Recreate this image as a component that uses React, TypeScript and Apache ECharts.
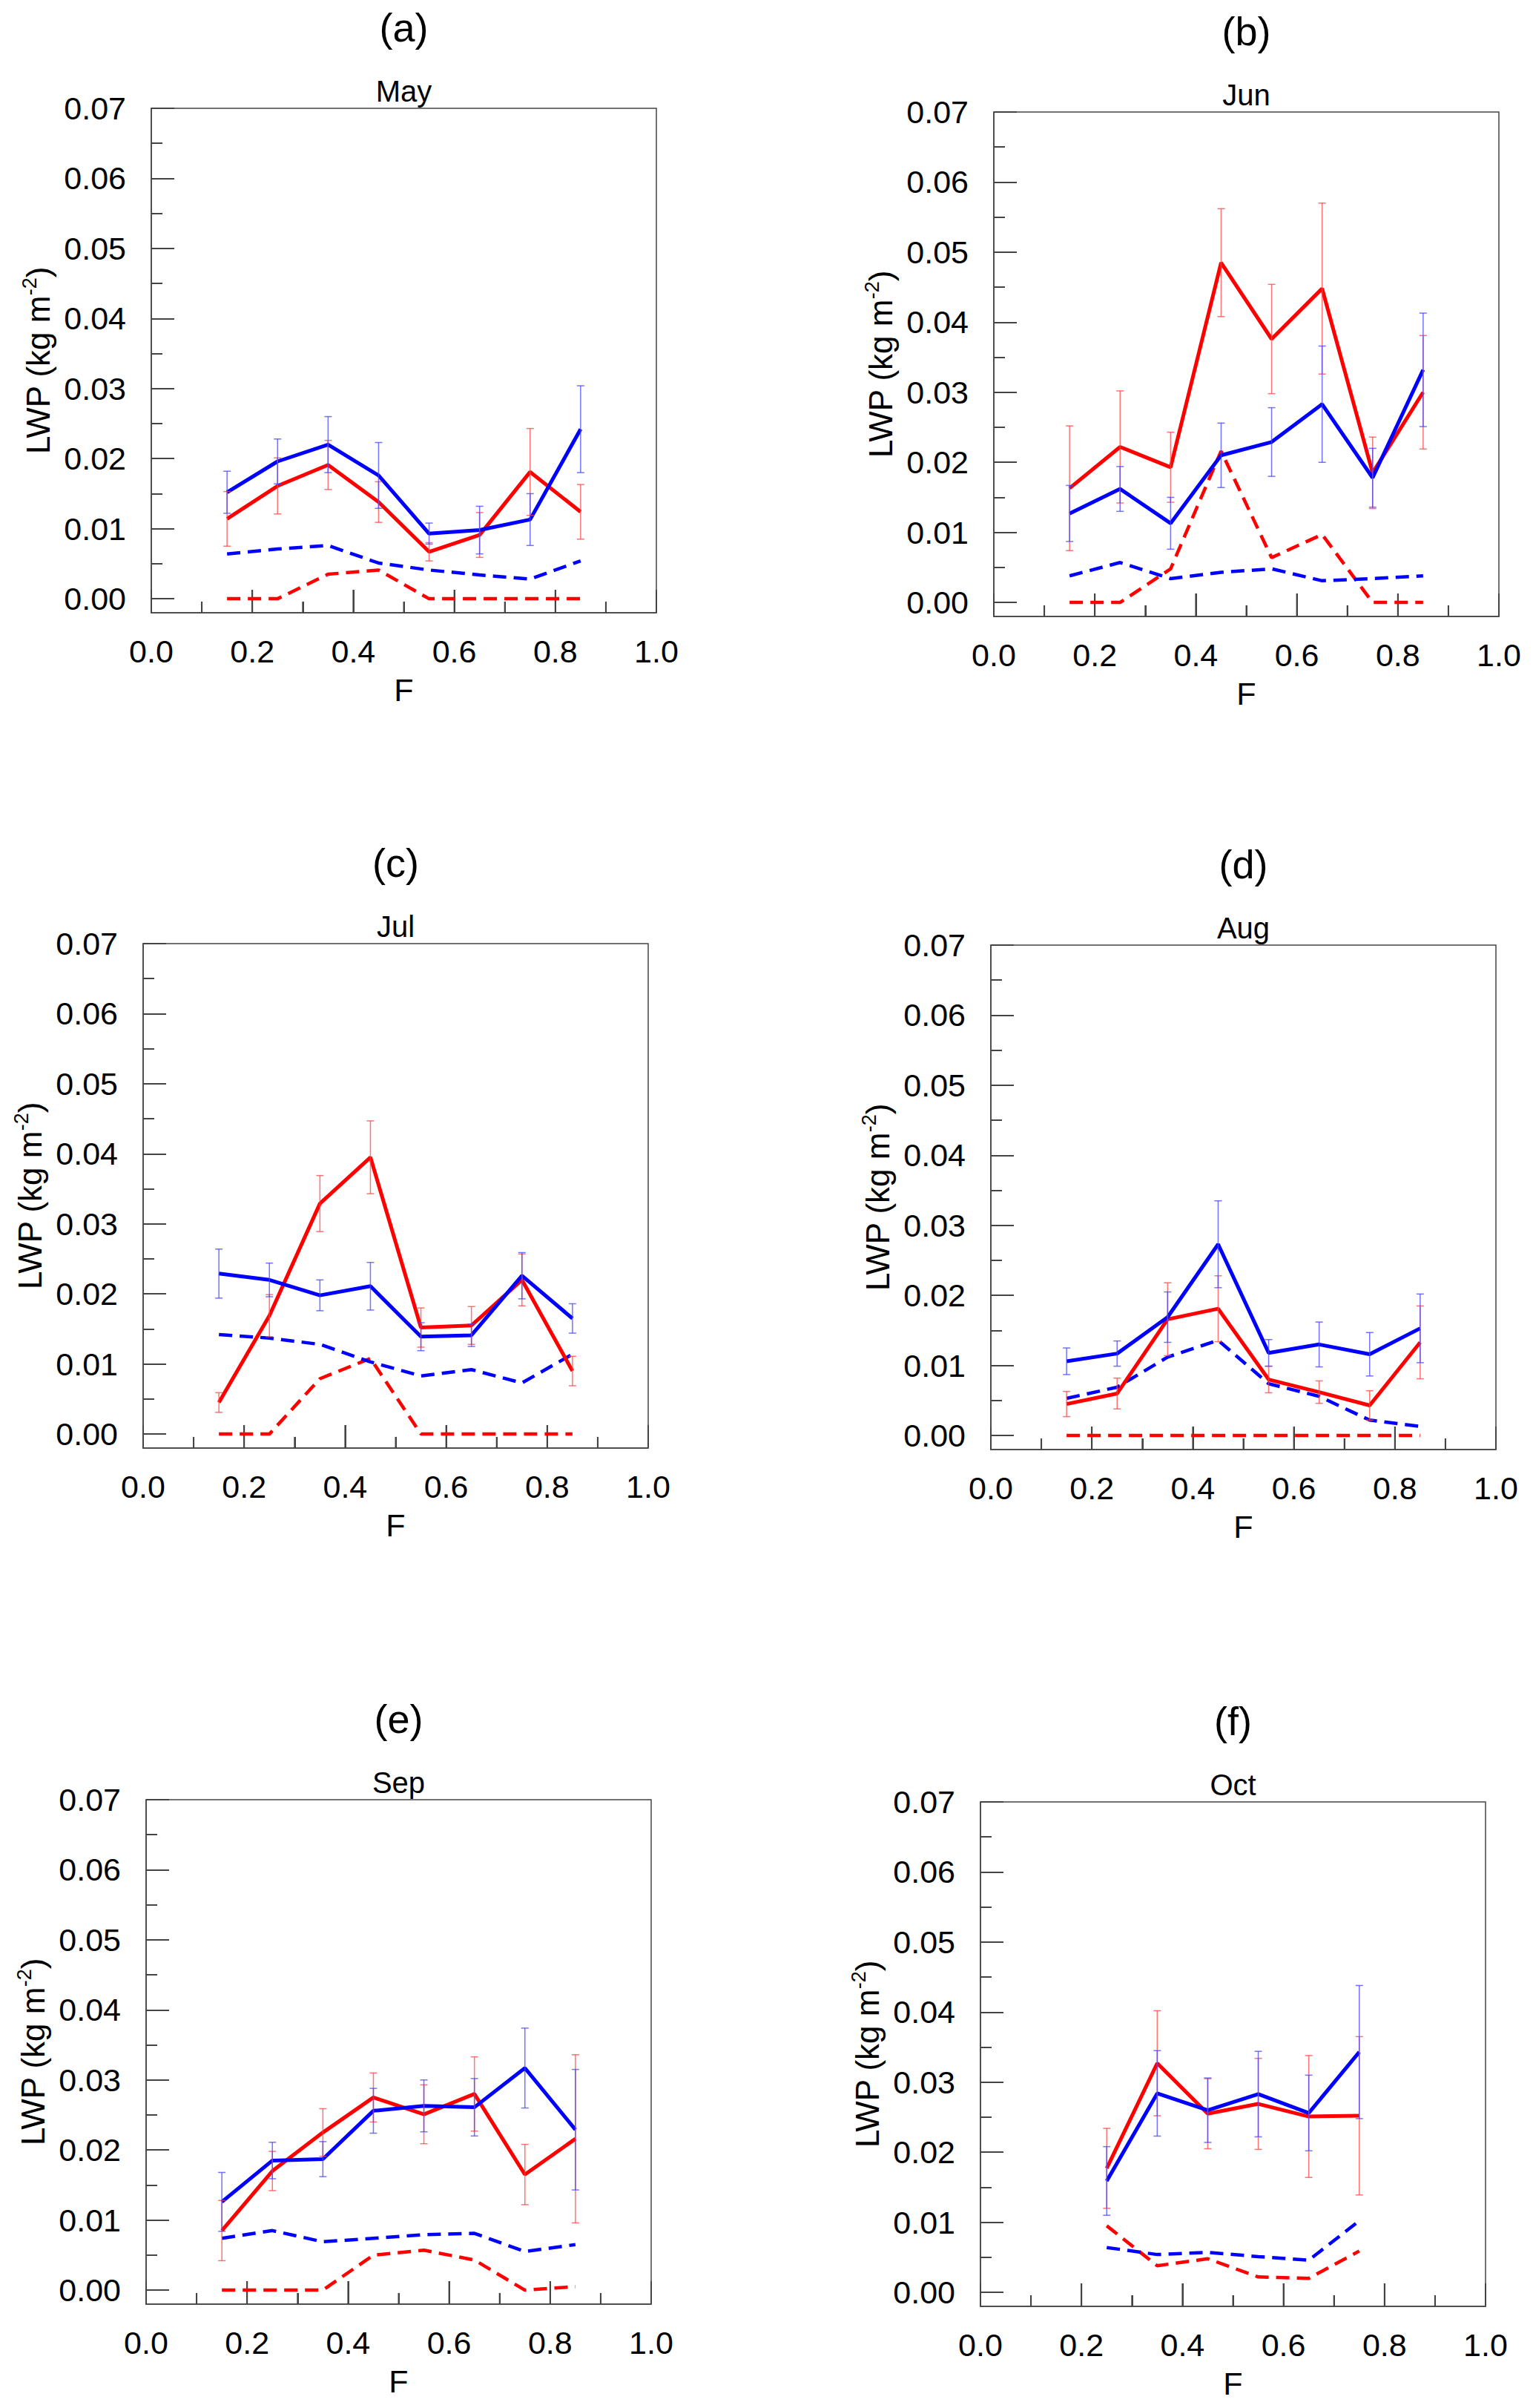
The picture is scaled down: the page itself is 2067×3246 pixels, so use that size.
import React, { useEffect, useRef } from 'react';
import * as echarts from 'echarts';

// F bins
const xsFull = [0.15, 0.25, 0.35, 0.45, 0.55, 0.65, 0.75, 0.85];
const xsOct = [0.25, 0.35, 0.45, 0.55, 0.65, 0.75];

const xMajorTicks = [0, 0.2, 0.4, 0.6, 0.8, 1.0];
const xMinorTicks = [0.1, 0.3, 0.5, 0.7, 0.9];
const yMajorTicks = [0, 0.01, 0.02, 0.03, 0.04, 0.05, 0.06, 0.07];
const yMinorTicks = [0.005, 0.015, 0.025, 0.035, 0.045, 0.055, 0.065];
const Y_MIN = -0.002;
const Y_MAX = 0.07;

const panelLetters = ['(a)', '(b)', '(c)', '(d)', '(e)', '(f)'];
const months = ['May', 'Jun', 'Jul', 'Aug', 'Sep', 'Oct'];

// May
const mayBlue = [0.0152, 0.0196, 0.022, 0.0176, 0.0093, 0.0098, 0.0113, 0.0242];
const mayBlueErr = [0.003, 0.0032, 0.004, 0.0047, 0.0015, 0.0034, 0.0037, 0.0062];
const mayRed = [0.0114, 0.0161, 0.0191, 0.0138, 0.0067, 0.0091, 0.0181, 0.0124];
const mayRedErr = [0.0039, 0.004, 0.0035, 0.0029, 0.0013, 0.0032, 0.0062, 0.0039];
const mayBlueDash = [0.0064, 0.0071, 0.0076, 0.0051, 0.0041, 0.0034, 0.0028, 0.0054];
const mayRedDash = [0, 0, 0.0035, 0.0041, 0, 0, 0, 0];

// Jun
const junBlue = [0.0127, 0.0162, 0.0113, 0.021, 0.0229, 0.0283, 0.0178, 0.0332];
const junBlueErr = [0.004, 0.0032, 0.0037, 0.0046, 0.0049, 0.0083, 0.0042, 0.0081];
const junRed = [0.0163, 0.0222, 0.0193, 0.0485, 0.0376, 0.0448, 0.0185, 0.03];
const junRedErr = [0.0089, 0.008, 0.005, 0.0077, 0.0078, 0.0122, 0.0051, 0.0081];
const junBlueDash = [0.0038, 0.0057, 0.0034, 0.0043, 0.0048, 0.0031, 0.0034, 0.0038];
const junRedDash = [0, 0, 0.0048, 0.0216, 0.0064, 0.0097, 0, 0];

// Jul
const julBlue = [0.0229, 0.022, 0.0198, 0.0211, 0.0139, 0.0141, 0.0226, 0.0165];
const julBlueErr = [0.0035, 0.0024, 0.0022, 0.0034, 0.002, 0.0016, 0.0033, 0.0021];
const julRed = [0.0045, 0.0169, 0.0329, 0.0395, 0.0152, 0.0155, 0.022, 0.009];
const julRedErr = [0.0014, 0.003, 0.004, 0.0052, 0.0028, 0.0027, 0.0037, 0.0021];
const julBlueDash = [0.0142, 0.0137, 0.0128, 0.0103, 0.0083, 0.0092, 0.0073, 0.0114];
const julRedDash = [0, 0, 0.0079, 0.0108, 0, 0, 0, 0];

// Aug
const augBlue = [0.0106, 0.0117, 0.0169, 0.0273, 0.0118, 0.013, 0.0116, 0.0153];
const augBlueErr = [0.0019, 0.0018, 0.0036, 0.0062, 0.0019, 0.0032, 0.0031, 0.0049];
const augRed = [0.0045, 0.006, 0.0166, 0.0181, 0.008, 0.0062, 0.0043, 0.0133];
const augRedErr = [0.0018, 0.0022, 0.0052, 0.0047, 0.0019, 0.0016, 0.0021, 0.0052];
const augBlueDash = [0.0053, 0.0069, 0.0112, 0.0136, 0.0074, 0.0056, 0.0022, 0.0013];
const augRedDash = [0, 0, 0, 0, 0, 0, 0, 0];

// Sep
const sepBlue = [0.0126, 0.0185, 0.0187, 0.0256, 0.0263, 0.0261, 0.0317, 0.0229];
const sepBlueErr = [0.0042, 0.0026, 0.0025, 0.0032, 0.0037, 0.0041, 0.0057, 0.0086];
const sepRed = [0.0085, 0.017, 0.0225, 0.0275, 0.0251, 0.028, 0.0165, 0.0216];
const sepRedErr = [0.0043, 0.0028, 0.0034, 0.0035, 0.0042, 0.0053, 0.0043, 0.012];
const sepBlueDash = [0.0074, 0.0085, 0.0069, 0.0074, 0.0079, 0.0081, 0.0055, 0.0065];
const sepRedDash = [0, 0, 0, 0.005, 0.0057, 0.0043, 0, 0.0005];

// Oct
const octBlue = [0.0159, 0.0284, 0.026, 0.0283, 0.0256, 0.0343];
const octBlueErr = [0.0049, 0.0061, 0.0046, 0.0061, 0.0054, 0.0095];
const octRed = [0.0177, 0.0327, 0.0255, 0.0269, 0.0251, 0.0252];
const octRedErr = [0.0057, 0.0075, 0.005, 0.0065, 0.0087, 0.0113];
const octBlueDash = [0.0064, 0.0054, 0.0057, 0.0051, 0.0046, 0.0102];
const octRedDash = [0.0095, 0.0038, 0.0048, 0.0022, 0.002, 0.0059];

const panels = [
  { xs: xsFull, blue: mayBlue, blueErr: mayBlueErr, red: mayRed, redErr: mayRedErr, blueDash: mayBlueDash, redDash: mayRedDash },
  { xs: xsFull, blue: junBlue, blueErr: junBlueErr, red: junRed, redErr: junRedErr, blueDash: junBlueDash, redDash: junRedDash },
  { xs: xsFull, blue: julBlue, blueErr: julBlueErr, red: julRed, redErr: julRedErr, blueDash: julBlueDash, redDash: julRedDash },
  { xs: xsFull, blue: augBlue, blueErr: augBlueErr, red: augRed, redErr: augRedErr, blueDash: augBlueDash, redDash: augRedDash },
  { xs: xsFull, blue: sepBlue, blueErr: sepBlueErr, red: sepRed, redErr: sepRedErr, blueDash: sepBlueDash, redDash: sepRedDash },
  { xs: xsOct, blue: octBlue, blueErr: octBlueErr, red: octRed, redErr: octRedErr, blueDash: octBlueDash, redDash: octRedDash },
];

// plot box positions (px)
const boxes = [
  { left: 204, top: 146 },
  { left: 1340, top: 151 },
  { left: 193, top: 1272 },
  { left: 1336, top: 1274 },
  { left: 197, top: 2426 },
  { left: 1322, top: 2429 },
];
const BOX_W = 681;
const BOX_H = 680;

const FONT = '"Liberation Sans", Arial, Helvetica, sans-serif';
const RED = '#ff0000';
const BLUE = '#0000ff';
const AXIS_GRAY = '#444444';
const MAJOR_LEN = 31;
const MINOR_LEN = 15;

const errorBarSeries = (gi: number, xs: number[], ys: number[], errs: number[], color: string) => ({
  type: 'custom',
  xAxisIndex: gi,
  yAxisIndex: gi * 2,
  clip: false,
  z: 4,
  data: xs.map((x, i) => [x, ys[i], errs[i]]),
  encode: { x: 0, y: 1 },
  renderItem: (params: any, api: any) => {
    const x = api.value(0);
    const y = api.value(1);
    const e = api.value(2);
    const hi = api.coord([x, y + e]);
    const lo = api.coord([x, y - e]);
    const cap = 5;
    const style = { stroke: color, lineWidth: 1.5 };
    return {
      type: 'group',
      children: [
        { type: 'line', shape: { x1: hi[0], y1: hi[1], x2: lo[0], y2: lo[1] }, style },
        { type: 'line', shape: { x1: hi[0] - cap, y1: hi[1], x2: hi[0] + cap, y2: hi[1] }, style },
        { type: 'line', shape: { x1: lo[0] - cap, y1: lo[1], x2: lo[0] + cap, y2: lo[1] }, style },
      ],
    };
  },
});

// bottom-axis ticks, placed with the axis scale (inside, pointing up)
const xTickSeries = (gi: number) => ({
  type: 'custom',
  xAxisIndex: gi,
  yAxisIndex: gi * 2,
  clip: false,
  silent: true,
  z: 1,
  data: xMajorTicks.map((v) => [v, Y_MIN, MAJOR_LEN]).concat(xMinorTicks.map((v) => [v, Y_MIN, MINOR_LEN])),
  encode: { x: 0, y: 1 },
  renderItem: (params: any, api: any) => {
    const p = api.coord([api.value(0), api.value(1)]);
    return {
      type: 'line',
      shape: { x1: p[0], y1: p[1], x2: p[0], y2: p[1] - api.value(2) },
      style: { stroke: AXIS_GRAY, lineWidth: 2 },
    };
  },
});

const lineSeries = (gi: number, xs: number[], ys: number[], color: string, dashed: boolean) => ({
  type: 'line',
  xAxisIndex: gi,
  yAxisIndex: gi * 2,
  data: xs.map((x, i) => [x, ys[i]]),
  symbol: 'none',
  clip: false,
  z: dashed ? 2 : 3,
  lineStyle: {
    color,
    width: dashed ? 4.5 : 5,
    type: dashed ? [18, 10] : 'solid',
    cap: 'butt',
  },
});

export default function App() {
  const chartRef = useRef<HTMLDivElement>(null);

  useEffect(() => {
    const chart = echarts.init(chartRef.current, null, { renderer: 'svg' });

    const grid: any[] = [];
    const xAxis: any[] = [];
    const yAxis: any[] = [];
    const series: any[] = [];
    const graphics: any[] = [];

    boxes.forEach((b, gi) => {
      grid.push({
        left: b.left,
        top: b.top,
        width: BOX_W,
        height: BOX_H,
        show: true,
        borderColor: AXIS_GRAY,
        borderWidth: 1.5,
      });

      xAxis.push({
        type: 'value',
        gridIndex: gi,
        min: 0,
        max: 1,
        interval: 0.2,
        axisLine: { show: true, onZero: false, lineStyle: { color: AXIS_GRAY, width: 1.5 } },
        axisTick: { show: true, inside: true, length: MAJOR_LEN, lineStyle: { color: AXIS_GRAY, width: 2 } },
        minorTick: { show: true, splitNumber: 2, length: MINOR_LEN, lineStyle: { color: AXIS_GRAY, width: 2 } },
        splitLine: { show: false },
        axisLabel: {
          fontSize: 43,
          fontFamily: FONT,
          color: '#000',
          margin: 30,
          showMinLabel: true,
          showMaxLabel: true,
          formatter: (v: number) => v.toFixed(1),
        },
        name: 'F',
        nameLocation: 'middle',
        nameGap: 82,
        nameTextStyle: { fontSize: 43, fontFamily: FONT, color: '#000' },
      });

      yAxis.push({
        type: 'value',
        gridIndex: gi,
        position: 'left',
        min: Y_MIN,
        max: Y_MAX,
        axisLine: { show: true, lineStyle: { color: AXIS_GRAY, width: 1.5 } },
        axisTick: {
          show: true,
          inside: true,
          length: MAJOR_LEN,
          customValues: yMajorTicks,
          lineStyle: { color: AXIS_GRAY, width: 2 },
        },
        splitLine: { show: false },
        axisLabel: {
          customValues: yMajorTicks,
          fontSize: 43,
          fontFamily: FONT,
          color: '#000',
          margin: 34,
          formatter: (v: number) => v.toFixed(2),
        },
        name: '{a|LWP (kg m}{s|-2}{a|)}',
        nameLocation: 'middle',
        nameRotate: 90,
        nameGap: 128,
        nameTextStyle: {
          rich: {
            a: { fontSize: 44, fontFamily: FONT, color: '#000', lineHeight: 50 },
            s: { fontSize: 27, fontFamily: FONT, color: '#000', lineHeight: 50, verticalAlign: 'top' },
          },
        },
      });

      // minor y ticks only
      yAxis.push({
        type: 'value',
        gridIndex: gi,
        position: 'left',
        offset: 0,
        min: Y_MIN,
        max: Y_MAX,
        axisLine: { show: false },
        axisTick: {
          show: true,
          inside: true,
          length: MINOR_LEN,
          customValues: yMinorTicks,
          lineStyle: { color: AXIS_GRAY, width: 2 },
        },
        axisLabel: { show: false },
        splitLine: { show: false },
      });

      const p = panels[gi];
      series.push(xTickSeries(gi));
      series.push(lineSeries(gi, p.xs, p.redDash, RED, true));
      series.push(lineSeries(gi, p.xs, p.blueDash, BLUE, true));
      series.push(lineSeries(gi, p.xs, p.red, RED, false));
      series.push(lineSeries(gi, p.xs, p.blue, BLUE, false));
      series.push(errorBarSeries(gi, p.xs, p.red, p.redErr, 'rgba(255,70,70,0.75)'));
      series.push(errorBarSeries(gi, p.xs, p.blue, p.blueErr, 'rgba(70,70,255,0.75)'));

      const cx = b.left + BOX_W / 2;
      graphics.push({
        type: 'text',
        x: cx,
        y: b.top - 109,
        style: {
          text: panelLetters[gi],
          fontSize: 54,
          fontFamily: FONT,
          fill: '#000',
          align: 'center',
          verticalAlign: 'middle',
          textAlign: 'center',
          textVerticalAlign: 'middle',
        },
      });
      graphics.push({
        type: 'text',
        x: cx,
        y: b.top - 23,
        style: {
          text: months[gi],
          fontSize: 40,
          fontFamily: FONT,
          fill: '#000',
          align: 'center',
          verticalAlign: 'middle',
          textAlign: 'center',
          textVerticalAlign: 'middle',
        },
      });
    });

    chart.setOption({
      animation: false,
      backgroundColor: '#ffffff',
      grid,
      xAxis,
      yAxis,
      series,
      graphic: { elements: graphics },
    });

    return () => {
      chart.dispose();
    };
  }, []);

  return (
    <div
      ref={chartRef}
      style={{ position: 'absolute', left: 0, top: 0, width: '2067px', height: '3246px' }}
    />
  );
}
